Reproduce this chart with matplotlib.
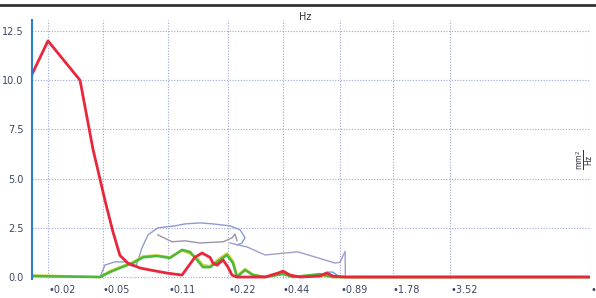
import numpy as np
import matplotlib
matplotlib.use('Agg')
import matplotlib.pyplot as plt
from matplotlib.lines import Line2D

# frequency ticks (Hz) as labelled on the chart
tick_freqs = [0.02, 0.05, 0.11, 0.22, 0.44, 0.89, 1.78, 3.52, 7.04]
tick_labels = ['\u20220.02', '\u20220.05', '\u20220.11', '\u20220.22', '\u20220.44',
               '\u20220.89', '\u20221.78', '\u20223.52', '\u20227.04']
y_ticks = [0.0, 2.5, 5.0, 7.5, 10.0, 12.5]

red_f = [0.015, 0.02, 0.0341, 0.0423, 0.0512, 0.0564, 0.0614, 0.0677, 0.0783, 0.0884,
         0.1086, 0.1293, 0.150, 0.163, 0.1787, 0.185, 0.1937, 0.2077, 0.22, 0.2314,
         0.2464, 0.3507, 0.413, 0.44, 0.480, 0.543, 0.694, 0.757, 0.815, 0.951, 7.04]
red_v = [10.3, 12.0, 10.0, 6.5, 3.9, 2.3, 1.1, 0.7, 0.46, 0.36,
         0.2, 0.1, 1.0, 1.22, 1.0, 0.7, 0.6, 0.87, 0.5, 0.1,
         0.0, 0.0, 0.2, 0.3, 0.1, 0.0, 0.05, 0.2, 0.05, 0.0, 0.0]

green_f = [0.015, 0.0476, 0.0544, 0.0614, 0.0719, 0.0812, 0.0962, 0.1126, 0.1293, 0.1418,
           0.1538, 0.1648, 0.1787, 0.2006, 0.2175, 0.2343, 0.2464, 0.2725, 0.3015, 0.3507,
           0.44, 0.498, 0.694, 0.815, 7.04]
green_v = [0.05, 0.0, 0.25, 0.46, 0.71, 1.0, 1.07, 0.97, 1.38, 1.28,
           0.87, 0.5, 0.5, 0.87, 1.12, 0.7, 0.0, 0.36, 0.1, 0.0,
           0.15, 0.0, 0.15, 0.0, 0.0]
yellow_v = [0.08, 0.0, 0.3, 0.5, 0.75, 1.05, 1.1, 1.0, 1.35, 1.2,
            0.95, 0.6, 0.55, 0.95, 1.2, 0.8, 0.05, 0.4, 0.12, 0.0,
            0.2, 0.0, 0.1, 0.0, 0.0]

# periwinkle upper trace (hooks back at ~0.27 Hz)
a_f = [0.0476, 0.0512, 0.0578, 0.0653, 0.0710, 0.0750, 0.0802, 0.0863, 0.0974, 0.1193,
       0.1339, 0.160, 0.185, 0.2256, 0.256, 0.2725, 0.2624, 0.2464]
a_v = [0.0, 0.61, 0.77, 0.77, 0.56, 0.6, 1.48, 2.14, 2.5, 2.6,
       2.7, 2.75, 2.7, 2.6, 2.4, 2.0, 1.73, 1.63]

# grey middle trace
b_f = [0.0974, 0.1152, 0.1339, 0.159, 0.2077, 0.2314, 0.2402, 0.2464]
b_v = [2.14, 1.79, 1.84, 1.73, 1.79, 1.99, 2.19, 1.84]

# lavender long trace
c_f = [0.2256, 0.2795, 0.3507, 0.451, 0.529, 0.653, 0.836, 0.89, 0.951, 0.955]
c_v = [1.73, 1.53, 1.12, 1.22, 1.28, 1.02, 0.71, 0.75, 1.3, 0.0]

# light blue small trace
d_f = [0.6, 0.694, 0.757, 0.815, 0.856, 0.89]
d_v = [0.0, 0.1, 0.25, 0.25, 0.1, 0.0]

# scale calibration: frequency -> screen position
anchor_f = np.log10([0.015, 0.02, 0.05, 0.11, 0.22, 0.44, 0.89, 1.78, 3.52, 7.04])
anchor_p = [32, 48, 103, 168, 228, 283, 340, 393, 450, 590]


def fwd(x):
    x = np.clip(np.asarray(x, dtype=float), 1e-6, None)
    return np.interp(np.log10(x), anchor_f, anchor_p)


def inv(p):
    return 10 ** np.interp(p, anchor_p, anchor_f)


W, H = 596, 298
fig = plt.figure(figsize=(W / 100, H / 100), dpi=100)
ax = fig.add_axes([32 / W, 1 - 279 / H, 558 / W, 259 / H])

ax.set_xscale('function', functions=(fwd, inv))
ax.set_xlim(0.015, 7.04)
ax.set_ylim(-0.1, 13.06)

ax.plot(c_f, c_v, color='#a39ccb', lw=1.0)
ax.plot(a_f, a_v, color='#8d9bd4', lw=1.0)
ax.plot(b_f, b_v, color='#9b95a8', lw=1.0)
ax.plot(d_f, d_v, color='#5aa6e6', lw=1.0)
ax.plot(green_f, yellow_v, color='#d6cf2c', lw=1.8)
ax.plot(green_f, green_v, color='#4cb83c', lw=1.8)
ax.plot(red_f, red_v, color='#e8263c', lw=2.0)

ax.set_xticks(tick_freqs)
ax.set_xticklabels(tick_labels)
ax.xaxis.set_minor_locator(matplotlib.ticker.NullLocator())
for lbl in ax.get_xticklabels():
    lbl.set_horizontalalignment('left')
ax.set_yticks(y_ticks)
ax.set_yticklabels(['%.1f' % v for v in y_ticks])
ax.tick_params(axis='both', length=0, labelsize=7, labelcolor='#3a4660')
ax.tick_params(axis='x', pad=4)
ax.tick_params(axis='y', pad=6)

ax.grid(True, color='#9aa6d6', lw=0.8, linestyle=(0, (1, 1.5)))
for s in ['top', 'right', 'bottom']:
    ax.spines[s].set_visible(False)
ax.spines['left'].set_color('#2a80d0')
ax.spines['left'].set_linewidth(1.5)

fig.add_artist(Line2D([0, 1], [1 - 4.5 / H, 1 - 4.5 / H], transform=fig.transFigure,
                      color='#333333', lw=2))
fig.text(305 / W, 1 - 17 / H, 'Hz', ha='center', va='center', fontsize=7, color='#333333')
fig.text(585 / W, 1 - 160 / H, r'$\frac{\mathrm{mm}^2}{\mathrm{Hz}}$', rotation=90,
         ha='center', va='center', fontsize=8, color='#333344')

fig.savefig('out.png', dpi=100)
